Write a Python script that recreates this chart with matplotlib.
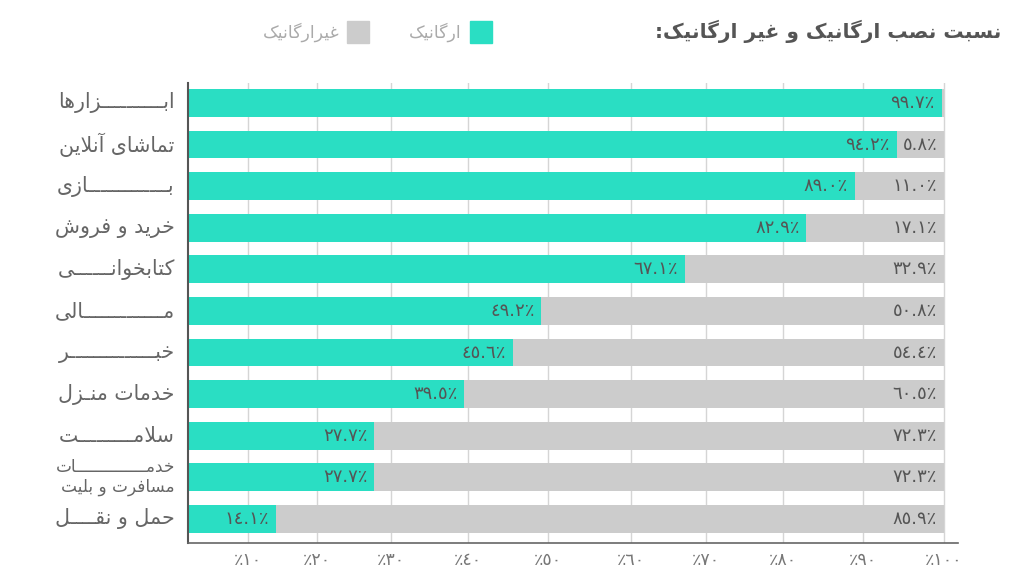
import numpy as np
import matplotlib
matplotlib.use("Agg")
import matplotlib.pyplot as plt
from matplotlib.patches import Rectangle

# ---------------- data ----------------
categories = [
    "ابــــــــــزارها",
    "تماشای آنلاین",
    "بـــــــــــــازی",
    "خرید و فروش",
    "کتابخوانــــــی",
    "مـــــــــــــالی",
    "خبــــــــــــــر",
    "خدمات منـزل",
    "سلامـــــــــت",
    "خدمــــــــــــــات\nمسافرت و بلیت",
    "حمل و نقــــل",
]
organic = [99.7, 94.2, 89.0, 82.9, 67.1, 49.2, 45.6, 39.5, 27.7, 27.7, 14.1]
non_organic = [0.3, 5.8, 11.0, 17.1, 32.9, 50.8, 54.4, 60.5, 72.3, 72.3, 85.9]
tick_values = [10, 20, 30, 40, 50, 60, 70, 80, 90, 100]
title = "نسبت نصب ارگانیک و غیر ارگانیک:"
legend_labels = ["ارگانیک", "غیرارگانیک"]

# ---------------- simple Arabic/Persian shaping ----------------
TATWEEL = "\u0640"
FORMS = {}
def _dual(ch, start):
    FORMS[ch] = tuple(chr(start + k) for k in range(4))
def _right(ch, start):
    FORMS[ch] = (chr(start), chr(start + 1), None, None)

_right("آ", 0xFE81); _right("أ", 0xFE83); _right("ؤ", 0xFE85); _right("إ", 0xFE87)
_dual("ئ", 0xFE89); _right("ا", 0xFE8D); _dual("ب", 0xFE8F); _right("ة", 0xFE93)
_dual("ت", 0xFE95); _dual("ث", 0xFE99); _dual("ج", 0xFE9D); _dual("ح", 0xFEA1)
_dual("خ", 0xFEA5); _right("د", 0xFEA9); _right("ذ", 0xFEAB); _right("ر", 0xFEAD)
_right("ز", 0xFEAF); _dual("س", 0xFEB1); _dual("ش", 0xFEB5); _dual("ص", 0xFEB9)
_dual("ض", 0xFEBD); _dual("ط", 0xFEC1); _dual("ظ", 0xFEC5); _dual("ع", 0xFEC9)
_dual("غ", 0xFECD); _dual("ف", 0xFED1); _dual("ق", 0xFED5); _dual("ك", 0xFED9)
_dual("ل", 0xFEDD); _dual("م", 0xFEE1); _dual("ن", 0xFEE5); _dual("ه", 0xFEE9)
_right("و", 0xFEED); _right("ى", 0xFEEF); _dual("ي", 0xFEF1)
_dual("پ", 0xFB56); _dual("چ", 0xFB7A); _right("ژ", 0xFB8A); _dual("ک", 0xFB8E)
_dual("گ", 0xFB92); _dual("ی", 0xFBFC)
LAM_ALEF = {"ا": ("\uFEFB", "\uFEFC"), "آ": ("\uFEF5", "\uFEF6")}


def _joins_next(c):
    return c == TATWEEL or (c in FORMS and FORMS[c][2] is not None)


def _joins_prev(c):
    return c == TATWEEL or (c in FORMS and FORMS[c][1] is not None)


def shape_line(s):
    out = []
    n = len(s)
    i = 0
    while i < n:
        c = s[i]
        prev = s[i - 1] if i > 0 else None
        nxt = s[i + 1] if i + 1 < n else None
        cp = prev is not None and _joins_next(prev) and _joins_prev(c)
        if c == "ل" and nxt in LAM_ALEF:
            out.append(LAM_ALEF[nxt][1] if cp else LAM_ALEF[nxt][0])
            i += 2
            continue
        if c not in FORMS:
            out.append(c)
            i += 1
            continue
        cn = nxt is not None and _joins_next(c) and _joins_prev(nxt)
        iso, fin, ini, med = FORMS[c]
        if cp and cn:
            f = med
        elif cp:
            f = fin
        elif cn:
            f = ini
        else:
            f = iso
        out.append(f)
        i += 1
    return "".join(reversed(out))


def rtl(s):
    return "\n".join(shape_line(line) for line in s.split("\n"))


AR_DIGITS = str.maketrans("0123456789", "٠١٢٣٤٥٦٧٨٩")


def pct_label(v):
    return f"{v:.1f}".translate(AR_DIGITS) + "٪"


def tick_label(v):
    return "٪" + f"{v:d}".translate(AR_DIGITS)


# ---------------- style ----------------
TEAL = "#2ADEC3"
GREY = "#CCCCCC"
TXT = "#666666"
VAL_TXT = "#555555"
plt.rcParams["font.family"] = ["DejaVu Sans"]

# uneven axis spacing of the original (pixel offsets of the gridlines)
scale_vals = [0, 10, 20, 30, 40, 50, 60, 70, 80, 90, 100, 110]
scale_pos = [0, 59.7, 129.3, 203.3, 280.3, 359.7, 443.3, 518.3, 595.3, 674.7, 756, 837.3]


def fwd(x):
    return np.interp(x, scale_vals, scale_pos)


def inv(p):
    return np.interp(p, scale_pos, scale_vals)


fig = plt.figure(figsize=(10.30, 5.88), dpi=100)
ax = fig.add_axes([188 / 1030, 1 - 543 / 588, (958 - 188) / 1030, (543 - 83) / 588])
ax.set_xscale("function", functions=(fwd, inv))

y = np.arange(len(categories))
ax.barh(y, organic, height=0.67, color=TEAL, zorder=2)
ax.barh(y, non_organic, left=organic, height=0.67, color=GREY, zorder=2)

for yi, o, n in zip(y, organic, non_organic):
    ax.annotate(pct_label(o), xy=(o, yi), xytext=(-5, 0), textcoords="offset points",
                ha="right", va="center", fontsize=13, color=VAL_TXT, zorder=3)
    if n >= 1:
        ax.annotate(pct_label(n), xy=(o + n, yi), xytext=(-5, 0), textcoords="offset points",
                    ha="right", va="center", fontsize=13, color=VAL_TXT, zorder=3)

ax.set_ylim(len(categories) - 1 + 0.58, -0.48)
ax.set_xlim(0, 101.72)
ax.set_yticks([])
ax.set_xticks(tick_values)
ax.set_xticklabels([tick_label(v) for v in tick_values], fontsize=12.5, color="#777777")
ax.tick_params(axis="x", length=0, pad=6)
ax.grid(axis="x", color="#D5D5D5", lw=1)
ax.set_axisbelow(True)
for s in ["top", "right"]:
    ax.spines[s].set_visible(False)
ax.spines["left"].set_color("#555555")
ax.spines["left"].set_linewidth(1.5)
ax.spines["bottom"].set_color("#666666")
ax.spines["bottom"].set_linewidth(1.2)

# category labels (right aligned next to the axis)
ytr = ax.get_yaxis_transform()
for yi, cat in zip(y, categories):
    fs = 12.2 if "\n" in cat else 14.8
    ax.annotate(rtl(cat), xy=(0, yi), xycoords=ytr, xytext=(-9.5, 0),
                textcoords="offset points", ha="right", va="center",
                fontsize=fs, color=TXT, linespacing=1.1, annotation_clip=False)

# title
fig.text(1001 / 1030, 1 - 31 / 588, rtl(title), ha="right", va="center", fontsize=14.5,
         fontweight="bold", color="#555555")

# legend
fig.patches.append(Rectangle((470 / 1030, 1 - 42.7 / 588), 22 / 1030, 22 / 588,
                             transform=fig.transFigure, color=TEAL))
fig.text(462 / 1030, 1 - 32 / 588, rtl(legend_labels[0]), ha="right", va="center",
         fontsize=12.5, color="#AAAAAA")
fig.patches.append(Rectangle((347 / 1030, 1 - 42.7 / 588), 22 / 1030, 22 / 588,
                             transform=fig.transFigure, color=GREY))
fig.text(340 / 1030, 1 - 32 / 588, rtl(legend_labels[1]), ha="right", va="center",
         fontsize=12.5, color="#AAAAAA")

fig.savefig("out.png", dpi=100)
